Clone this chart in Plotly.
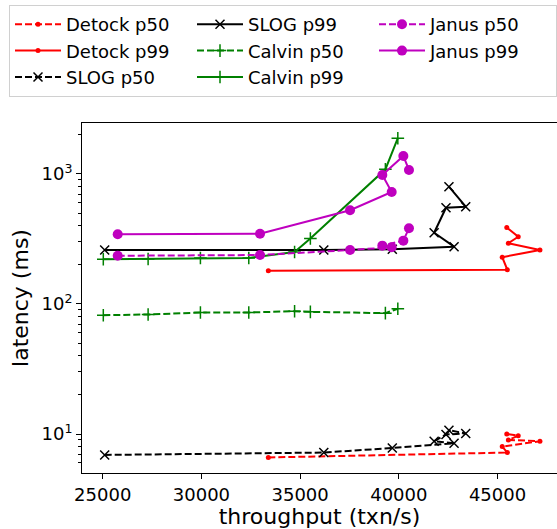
import plotly.graph_objects as go
import numpy as np

# ---- data (throughput txn/s, latency ms) ----
detock_x = [33390, 45500, 45240, 47150, 45550, 46050, 45470]
detock_p50 = [6.6, 7.2, 8.0, 8.8, 9.0, 9.7, 10.0]
detock_p99 = [180, 183, 229, 260, 293, 329, 387]

slog_x = [25100, 36200, 39670, 42800, 41790, 42390, 43390, 42540]
slog_p50 = [6.9, 7.2, 7.8, 8.5, 8.8, 9.9, 10.1, 10.7]
slog_p99 = [260, 260, 264, 276, 353, 550, 560, 798]

calvin_x = [25030, 27300, 29950, 32400, 34720, 35520, 39320, 39950]
calvin_p50 = [82, 83, 86, 86, 88, 87, 85, 92]
calvin_p99 = [221, 222, 226, 226, 251, 319, 1086, 1884]

janus_x = [25760, 32970, 37530, 39640, 39165, 40230, 40515]
janus_p50 = [235, 238, 260, 273, 281, 307, 382]
janus_p99 = [344, 347, 526, 727, 982, 1374, 1074]

series = [
    # name, x, y, color, dash, symbol, size, legendrank
    ("Detock p50", detock_x, detock_p50, "#ff0000", "7px,3px", "circle", 5, 1),
    ("Detock p99", detock_x, detock_p99, "#ff0000", "solid", "circle", 5, 4),
    ("SLOG p50", slog_x, slog_p50, "#000000", "7px,3px", "x-thin-open", 9, 7),
    ("SLOG p99", slog_x, slog_p99, "#000000", "solid", "x-thin-open", 9, 2),
    ("Calvin p50", calvin_x, calvin_p50, "#008000", "7px,3px", "cross-thin-open", 9, 5),
    ("Calvin p99", calvin_x, calvin_p99, "#008000", "solid", "cross-thin-open", 9, 8),
    ("Janus p50", janus_x, janus_p50, "#bf00bf", "7px,3px", "circle", 10, 3),
    ("Janus p99", janus_x, janus_p99, "#bf00bf", "solid", "circle", 10, 6),
]

fig = go.Figure()
for name, x, y, color, dash, sym, size, rank in series:
    open_sym = sym.endswith("open")
    fig.add_trace(go.Scatter(
        x=x, y=y, name=name, mode="lines+markers",
        line=dict(color=color, width=2, dash=dash),
        marker=dict(symbol=sym, size=size, color=color,
                    line=dict(color=color, width=1.5 if open_sym else 0)),
        legendrank=rank,
    ))

minor_vals = [m * 10 ** d for d in range(0, 4) for m in range(2, 10)]

plot_w = 557 - 82
plot_h = 529 - 123 - 56

fig.update_layout(
    width=557, height=529,
    margin=dict(l=82, r=0, t=123, b=56),
    plot_bgcolor="white", paper_bgcolor="white",
    font=dict(family="DejaVu Sans", size=18, color="black"),
    legend=dict(
        orientation="h", xref="paper", yref="paper",
        x=(10 - 82) / plot_w, y=1 + (123 - 5) / plot_h,
        xanchor="left", yanchor="top",
        entrywidth=121, bordercolor="#d0d0d0", borderwidth=1,
        font=dict(size=18), itemwidth=46,
    ),
    xaxis=dict(
        range=[23951, 48014], showline=True, linecolor="black", linewidth=1,
        mirror=True, ticks="outside", ticklen=5, tickcolor="black",
        tickvals=[25000, 30000, 35000, 40000, 45000],
        ticktext=["25000", "30000", "35000", "40000", "45000"],
        showgrid=False, zeroline=False,
        title=dict(text="throughput (txn/s)", standoff=6),
    ),
    yaxis=dict(
        type="log", range=[0.7, 3.392], showline=True, linecolor="black",
        linewidth=1, ticks="outside", ticklen=5, tickcolor="black",
        tickvals=[10, 100, 1000],
        ticktext=["10<sup>1</sup>", "10<sup>2</sup>", "10<sup>3</sup>"],
        showgrid=False, zeroline=False,
        minor=dict(ticks="outside", ticklen=3, tickcolor="black",
                   tickvals=minor_vals, showgrid=False),
        title=dict(text="latency (ms)", standoff=6),
    ),
)

fig.write_html("out.html")
